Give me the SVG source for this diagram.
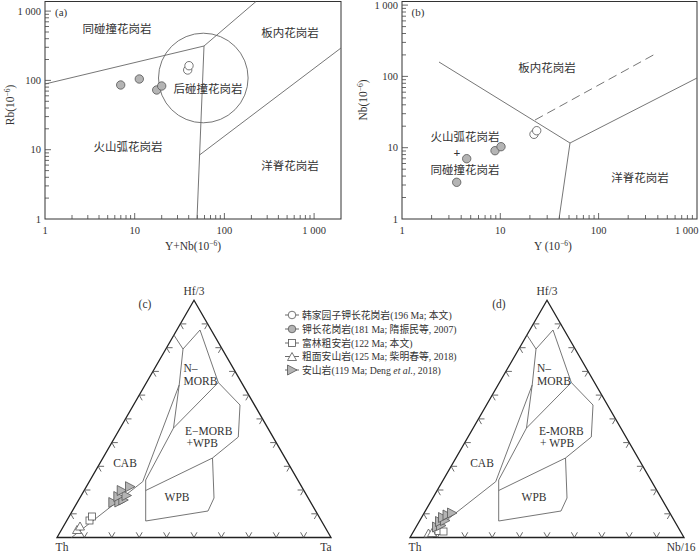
<svg xmlns="http://www.w3.org/2000/svg" width="700" height="554" viewBox="0 0 700 554">
<style>
text{font-family:"Liberation Serif","Noto Sans CJK SC",serif;fill:#333}
.cj{font-size:11.5px;fill:#444}
.tl{font-size:10.5px}
.tt{font-size:11.5px}
.lg{font-size:9.8px}
.fl{font-size:11.5px}
.box{fill:none;stroke:#333;stroke-width:1}
.tk{fill:none;stroke:#444;stroke-width:0.8}
.ln{fill:none;stroke:#666;stroke-width:0.9}
.tri{fill:none;stroke:#222;stroke-width:1.3}
.gf{fill:#b4b4b4;stroke:#555;stroke-width:0.8}
.wf{fill:#fff;stroke:#555;stroke-width:0.8}
</style>
<defs>
<polygon id="rt" points="-4.5,-5 -4.5,5 5,0"/>
<rect id="sq" x="-3.5" y="-3.5" width="7" height="7"/>
<polygon id="ut" points="0,-4.5 4.5,3.5 -4.5,3.5"/>
<circle id="ci" r="4.2"/>
<circle id="cs" r="3.8"/>
</defs>

<!-- Panel (a) -->
<g id="panel-a">
<rect class="box" x="45" y="1.5" width="296" height="217.5"/>
<path class="tk" d="M72,219v-4M87.8,219v-4M99,219v-4M107.7,219v-4M114.8,219v-4M120.8,219v-4M126,219v-4M130.6,219v-4M134.7,219v-6M161.7,219v-4M177.5,219v-4M188.7,219v-4M197.4,219v-4M204.5,219v-4M210.5,219v-4M215.7,219v-4M220.3,219v-4M224.4,219v-6M251.4,219v-4M267.2,219v-4M278.4,219v-4M287.1,219v-4M294.2,219v-4M300.2,219v-4M305.4,219v-4M310,219v-4M314.1,219v-6"/>
<path class="tk" d="M45,198.1h4M45,185.9h4M45,177.3h4M45,170.6h4M45,165.1h4M45,160.4h4M45,156.4h4M45,152.9h4M45,149.7h6M45,128.8h4M45,116.6h4M45,108h4M45,101.3h4M45,95.8h4M45,91.1h4M45,87.1h4M45,83.6h4M45,80.4h6M45,59.5h4M45,47.3h4M45,38.7h4M45,32h4M45,26.5h4M45,21.8h4M45,17.8h4M45,14.3h4M45,11.1h6"/>
<g class="tl" text-anchor="middle">
<text x="45" y="234">1</text><text x="134.7" y="234">10</text><text x="224.4" y="234">100</text><text x="314.1" y="234">1 000</text>
</g>
<g class="tl" text-anchor="end">
<text x="41" y="222.5">1</text><text x="41" y="153.2">10</text><text x="41" y="83.9">100</text><text x="41" y="14.6">1 000</text>
</g>
<text class="tt" x="193" y="250" text-anchor="middle">Y+Nb(10<tspan dy="-4.5" font-size="7.5">−6</tspan><tspan dy="4.5">)</tspan></text>
<text class="tt" transform="translate(14,105) rotate(-90)" text-anchor="middle">Rb(10<tspan dy="-4.5" font-size="7.5">−6</tspan><tspan dy="4.5">)</tspan></text>
<g id="a-lines">
<path class="ln" d="M45,84L204,46L256,1.5M204,46L197,219M199.5,155L341,48"/>
<circle class="ln" cx="203.3" cy="78" r="44.8"/>
</g>
<text x="55" y="15.5" font-size="11px">(a)</text>
<g class="cj" text-anchor="middle">
<text x="117" y="33">同碰撞花岗岩</text>
<text x="290" y="37">板内花岗岩</text>
<text x="208" y="93">后碰撞花岗岩</text>
<text x="128" y="151">火山弧花岗岩</text>
<text x="290" y="170">洋脊花岗岩</text>
</g>
<use href="#ci" class="gf" x="120.7" y="85"/>
<use href="#ci" class="gf" x="139.3" y="79"/>
<use href="#ci" class="gf" x="156.7" y="90"/>
<use href="#ci" class="gf" x="161.7" y="86"/>
<use href="#ci" class="wf" x="187.7" y="70"/>
<use href="#ci" class="wf" x="189" y="65.7"/>
</g>

<!-- Panel (b) -->
<g id="panel-b">
<rect class="box" x="402" y="1.5" width="295" height="217.5"/>
<path class="tk" d="M431.6,219v-4M448.9,219v-4M461.2,219v-4M470.7,219v-4M478.5,219v-4M485.1,219v-4M490.8,219v-4M495.8,219v-4M500.3,219v-6M529.9,219v-4M547.2,219v-4M559.5,219v-4M569,219v-4M576.8,219v-4M583.4,219v-4M589.1,219v-4M594.1,219v-4M598.6,219v-6M628.2,219v-4M645.5,219v-4M657.8,219v-4M667.3,219v-4M675.1,219v-4M681.7,219v-4M687.4,219v-4M692.4,219v-4"/>
<path class="tk" d="M402,197.5h4M402,185h4M402,176.1h4M402,169.2h4M402,163.5h4M402,158.8h4M402,154.6h4M402,151h4M402,147.7h6M402,126.2h4M402,113.7h4M402,104.8h4M402,97.9h4M402,92.2h4M402,87.5h4M402,83.3h4M402,79.7h4M402,76.4h6M402,54.9h4M402,42.4h4M402,33.5h4M402,26.6h4M402,20.9h4M402,16.2h4M402,12h4M402,8.4h4M402,5.1h6"/>
<g class="tl" text-anchor="middle">
<text x="402" y="234">1</text><text x="500.3" y="234">10</text><text x="598.6" y="234">100</text>
</g>
<text class="tl" x="698.5" y="234" text-anchor="end">1 000</text>
<g class="tl" text-anchor="end">
<text x="398" y="222.5">1</text><text x="398" y="151.2">10</text><text x="398" y="79.9">100</text><text x="398" y="9.2">1 000</text>
</g>
<text class="tt" x="553" y="250" text-anchor="middle">Y (10<tspan dy="-4.5" font-size="7.5">−6</tspan><tspan dy="4.5">)</tspan></text>
<text class="tt" transform="translate(367,100) rotate(-90)" text-anchor="middle">Nb(10<tspan dy="-4.5" font-size="7.5">−6</tspan><tspan dy="4.5">)</tspan></text>
<g id="b-lines">
<path class="ln" d="M439,62L570,143L697,78M570,143L559,219"/>
<path class="ln" d="M535,120L657,53" stroke-dasharray="9,5"/>
</g>
<text x="411.5" y="16" font-size="11px">(b)</text>
<g class="cj" text-anchor="middle">
<text x="547" y="72">板内花岗岩</text>
<text x="465" y="141">火山弧花岗岩</text>
<text x="465" y="174">同碰撞花岗岩</text>
<text x="640" y="182">洋脊花岗岩</text>
</g>
<text x="457" y="156.5" text-anchor="middle" font-size="12px" font-weight="bold">+</text>
<use href="#ci" class="gf" x="466.7" y="158.7"/>
<use href="#ci" class="gf" x="495" y="150.7"/>
<use href="#ci" class="gf" x="501" y="146.7"/>
<use href="#ci" class="gf" x="456.7" y="182.3"/>
<use href="#ci" class="wf" x="534" y="134.3"/>
<use href="#ci" class="wf" x="536.7" y="130.7"/>
</g>

<!-- Panel (c) -->
<g id="panel-c">
<path class="tri" d="M57,537.5L331,537.5L194,300.2Z"/>
<path class="tk" d="M81.4,532.3L84.4,537.5L87.4,532.3M108.8,532.3L111.8,537.5L114.8,532.3M136.2,532.3L139.2,537.5L142.2,532.3M163.6,532.3L166.6,537.5L169.6,532.3M191,532.3L194,537.5L197,532.3M218.4,532.3L221.4,537.5L224.4,532.3M245.8,532.3L248.8,537.5L251.8,532.3M273.2,532.3L276.2,537.5L279.2,532.3M300.6,532.3L303.6,537.5L306.6,532.3"/>
<path class="tk" d="M76.7,513.8h-6l3,5.2M90.4,490h-6l3,5.2M104.1,466.3h-6l3,5.2M117.8,442.6h-6l3,5.2M131.5,418.9h-6l3,5.2M145.2,395.1h-6l3,5.2M158.9,371.4h-6l3,5.2M172.6,347.7h-6l3,5.2M186.3,323.9h-6l3,5.2"/>
<path class="tk" d="M311.3,513.8h6l-3,5.2M297.6,490h6l-3,5.2M283.9,466.3h6l-3,5.2M270.2,442.6h6l-3,5.2M256.5,418.9h6l-3,5.2M242.8,395.1h6l-3,5.2M229.1,371.4h6l-3,5.2M215.4,347.7h6l-3,5.2M201.7,323.9h6l-3,5.2"/>
<g id="c-fields">
<path class="ln" d="M173.9,335L183,349L200,330L218.3,382.5L240,405L238.3,437L212.5,458L214,498L208,511L145.7,521L145.7,480L173.5,428L179.2,385L183,349"/>
<path class="ln" d="M218.3,382.5L173.5,428M145.7,490.5L212.5,458M179.2,385L142.7,481.7L71.5,537.5"/>
</g>
<text x="194" y="295" text-anchor="middle" font-size="11.5px">Hf/3</text>
<text x="145" y="308" text-anchor="middle" font-size="11.5px">(c)</text>
<text x="62" y="551" text-anchor="middle" font-size="11.5px">Th</text>
<text x="326" y="551" text-anchor="middle" font-size="11.5px">Ta</text>
<g class="fl">
<text x="183.5" y="372">N–</text>
<text x="183.5" y="385">MORB</text>
<text x="185" y="434.5">E−MORB</text>
<text x="186.5" y="447">+WPB</text>
<text x="125" y="467" text-anchor="middle">CAB</text>
<text x="177" y="501" text-anchor="middle">WPB</text>
</g>
<use href="#ut" class="wf" x="77" y="530"/>
<use href="#ut" class="wf" x="80" y="526.5"/>
<use href="#sq" class="wf" x="89.5" y="520.5"/>
<use href="#sq" class="wf" x="92" y="516.5"/>
<use href="#rt" class="gf" x="113.3" y="502.5"/>
<use href="#rt" class="gf" x="119.3" y="502"/>
<use href="#rt" class="gf" x="123.3" y="500"/>
<use href="#rt" class="gf" x="118.3" y="496.5"/>
<use href="#rt" class="gf" x="126.5" y="495.5"/>
<use href="#rt" class="gf" x="121.7" y="490.5"/>
<use href="#rt" class="gf" x="130" y="486.7"/>
</g>

<!-- Legend -->
<g id="legend">
<path class="tk" d="M285,315h14M285,329h14M285,343h14M285,356.5h14M285,370h14"/>
<use href="#cs" class="wf" x="292" y="315"/>
<use href="#cs" class="gf" x="292" y="329"/>
<use href="#sq" class="wf" x="292" y="343"/>
<use href="#ut" class="wf" x="292" y="357"/>
<use href="#rt" class="gf" x="292" y="370"/>
<g class="lg">
<text x="302" y="318.5">韩家园子钾长花岗岩(196 Ma; 本文)</text>
<text x="302" y="332.5">钾长花岗岩(181 Ma; 隋振民等, 2007)</text>
<text x="302" y="346.5">富林粗安岩(122 Ma; 本文)</text>
<text x="302" y="360">粗面安山岩(125 Ma; 柴明春等, 2018)</text>
<text x="302" y="373.5">安山岩(119 Ma; Deng <tspan font-style="italic">et al.</tspan>, 2018)</text>
</g>
</g>

<!-- Panel (d) -->
<g id="panel-d">
<path class="tri" d="M410,537.5L684,537.5L547,300.2Z"/>
<path class="tk" d="M434.4,532.3L437.4,537.5L440.4,532.3M461.8,532.3L464.8,537.5L467.8,532.3M489.2,532.3L492.2,537.5L495.2,532.3M516.6,532.3L519.6,537.5L522.6,532.3M544,532.3L547,537.5L550,532.3M571.4,532.3L574.4,537.5L577.4,532.3M598.8,532.3L601.8,537.5L604.8,532.3M626.2,532.3L629.2,537.5L632.2,532.3M653.6,532.3L656.6,537.5L659.6,532.3"/>
<path class="tk" d="M429.7,513.8h-6l3,5.2M443.4,490h-6l3,5.2M457.1,466.3h-6l3,5.2M470.8,442.6h-6l3,5.2M484.5,418.9h-6l3,5.2M498.2,395.1h-6l3,5.2M511.9,371.4h-6l3,5.2M525.6,347.7h-6l3,5.2M539.3,323.9h-6l3,5.2"/>
<path class="tk" d="M664.3,513.8h6l-3,5.2M650.6,490h6l-3,5.2M636.9,466.3h6l-3,5.2M623.2,442.6h6l-3,5.2M609.5,418.9h6l-3,5.2M595.8,395.1h6l-3,5.2M582.1,371.4h6l-3,5.2M568.4,347.7h6l-3,5.2M554.7,323.9h6l-3,5.2"/>
<g id="d-fields">
<path class="ln" d="M526.9,335L536,349L553,330L571.3,382.5L593,405L591.3,437L565.5,458L567,498L561,511L498.7,521L498.7,480L526.5,428L532.2,385L536,349"/>
<path class="ln" d="M571.3,382.5L526.5,428M498.7,490.5L565.5,458M532.2,385L495.7,481.7L424.5,537.5"/>
</g>
<text x="547" y="295" text-anchor="middle" font-size="11.5px">Hf/3</text>
<text x="499" y="308" text-anchor="middle" font-size="11.5px">(d)</text>
<text x="415" y="551" text-anchor="middle" font-size="11.5px">Th</text>
<text x="681" y="551" text-anchor="middle" font-size="11.5px">Nb/16</text>
<g class="fl">
<text x="537" y="372">N–</text>
<text x="537" y="385">MORB</text>
<text x="539" y="434.5">E-MORB</text>
<text x="540" y="447">+ WPB</text>
<text x="482" y="467" text-anchor="middle">CAB</text>
<text x="534" y="501" text-anchor="middle">WPB</text>
</g>
<use href="#ut" class="wf" x="428.5" y="533.5"/>
<use href="#ut" class="wf" x="432" y="533"/>
<use href="#sq" class="wf" x="438.5" y="531"/>
<use href="#sq" class="wf" x="443.5" y="531.5"/>
<use href="#rt" class="gf" x="437" y="527"/>
<use href="#rt" class="gf" x="441" y="525.5"/>
<use href="#rt" class="gf" x="440" y="521.5"/>
<use href="#rt" class="gf" x="445" y="520.5"/>
<use href="#rt" class="gf" x="443" y="517.5"/>
<use href="#rt" class="gf" x="447.5" y="515"/>
<use href="#rt" class="gf" x="452" y="513"/>
</g>
</svg>
